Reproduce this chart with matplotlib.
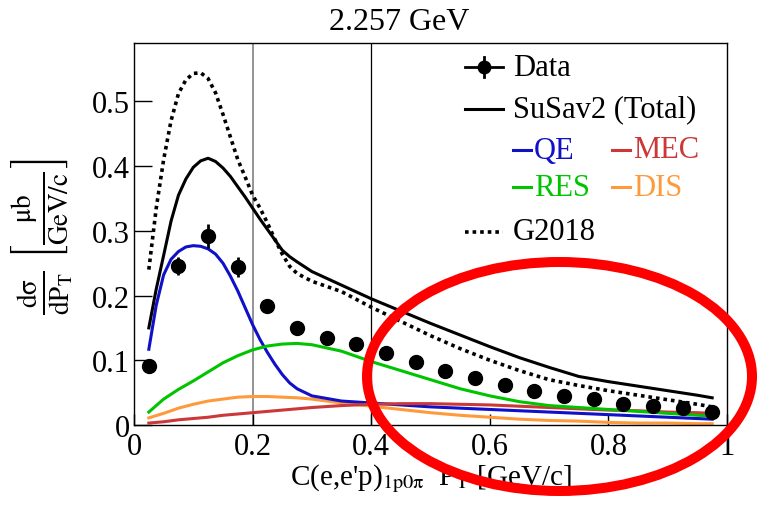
import matplotlib
matplotlib.use('Agg')
import matplotlib.pyplot as plt
from matplotlib.lines import Line2D
from matplotlib.patches import Ellipse

plt.rcParams['font.family'] = ['Liberation Serif', 'DejaVu Serif']
plt.rcParams['mathtext.fontset'] = 'stix'

# data points (bin centres) and their errors
data_x = [0.025, 0.075, 0.125, 0.175, 0.225, 0.275, 0.325, 0.375, 0.425, 0.475,
          0.525, 0.575, 0.625, 0.675, 0.725, 0.775, 0.825, 0.875, 0.925, 0.975]
data_y = [0.091, 0.245, 0.292, 0.244, 0.184, 0.150, 0.135, 0.125, 0.111, 0.097,
          0.084, 0.072, 0.062, 0.053, 0.045, 0.040, 0.032, 0.029, 0.026, 0.020]
data_err = [0.005, 0.014, 0.019, 0.015, 0.008, 0.006, 0.006, 0.005, 0.005, 0.004,
            0.004, 0.003, 0.003, 0.003, 0.003, 0.002, 0.002, 0.002, 0.002, 0.002]

# peaked model curves on a finer grid
fine_x = [0.025, 0.0375, 0.05, 0.0625, 0.075, 0.0875, 0.1, 0.1125, 0.125, 0.1375, 0.15,
          0.1625, 0.175, 0.1875, 0.2, 0.2125, 0.225, 0.2375, 0.25, 0.2625, 0.275, 0.3,
          0.35, 0.4, 0.45, 0.5, 0.55, 0.6, 0.65, 0.7, 0.75, 0.8, 0.85, 0.9, 0.95, 0.975]
susav2 = [0.150, 0.210, 0.262, 0.315, 0.355, 0.380, 0.398, 0.408, 0.412, 0.407, 0.397,
          0.384, 0.368, 0.352, 0.335, 0.318, 0.302, 0.286, 0.270, 0.260, 0.252, 0.237,
          0.216, 0.195, 0.176, 0.157, 0.139, 0.121, 0.104, 0.089, 0.075, 0.067, 0.060, 0.053, 0.046, 0.042]
g2018 = [0.240, 0.335, 0.410, 0.470, 0.512, 0.533, 0.543, 0.544, 0.535, 0.513, 0.480,
         0.445, 0.410, 0.383, 0.355, 0.335, 0.312, 0.287, 0.264, 0.245, 0.234, 0.222,
         0.206, 0.182, 0.160, 0.138, 0.118, 0.100, 0.084, 0.070, 0.061, 0.053, 0.046, 0.039, 0.032, 0.028]
qe = [0.117, 0.185, 0.232, 0.256, 0.268, 0.275, 0.277, 0.276, 0.272, 0.264, 0.250,
      0.230, 0.207, 0.181, 0.155, 0.132, 0.112, 0.094, 0.078, 0.065, 0.056, 0.045,
      0.037, 0.034, 0.031, 0.028, 0.026, 0.024, 0.022, 0.020, 0.018, 0.016, 0.014, 0.012, 0.010, 0.009]

# smoother components
curve_x = [0.025, 0.05, 0.075, 0.1, 0.125, 0.15, 0.175, 0.2, 0.225, 0.25, 0.275, 0.3,
           0.35, 0.4, 0.45, 0.5, 0.55, 0.6, 0.65, 0.7, 0.75, 0.8, 0.85, 0.9, 0.95, 0.975]
res = [0.020, 0.040, 0.055, 0.068, 0.082, 0.096, 0.107, 0.116, 0.122, 0.125, 0.126, 0.124,
       0.114, 0.098, 0.084, 0.070, 0.056, 0.045, 0.036, 0.030, 0.027, 0.024, 0.021, 0.018, 0.015, 0.014]
mec = [0.003, 0.005, 0.008, 0.010, 0.012, 0.015, 0.017, 0.019, 0.021, 0.023, 0.025, 0.027,
       0.030, 0.032, 0.033, 0.033, 0.032, 0.031, 0.029, 0.027, 0.025, 0.023, 0.022, 0.020, 0.019, 0.018]
dis = [0.011, 0.018, 0.026, 0.032, 0.037, 0.040, 0.043, 0.044, 0.044, 0.043, 0.042, 0.040,
       0.034, 0.029, 0.024, 0.019, 0.015, 0.012, 0.009, 0.007, 0.006, 0.004, 0.003, 0.003, 0.002, 0.002]

x_ticks = [0, 0.2, 0.4, 0.6, 0.8, 1]
x_ticklabels = ['0', '0.2', '0.4', '0.6', '0.8', '1']
y_ticks = [0, 0.1, 0.2, 0.3, 0.4, 0.5]
y_ticklabels = ['0', '0.1', '0.2', '0.3', '0.4', '0.5']

c_qe = '#1010c8'
c_res = '#00c400'
c_mec = '#cc3838'
c_dis = '#ff9a3c'

fig = plt.figure(figsize=(7.57, 5.06), dpi=100)
ax = fig.add_axes([134 / 757, 80 / 506, 593 / 757, 382 / 506])

ax.axvline(0.2, color='#808080', lw=1.2, zorder=1)
ax.axvline(0.4, color='black', lw=0.9, zorder=1)

ax.plot(curve_x, dis, color=c_dis, lw=2.2, zorder=2)
ax.plot(fine_x, qe, color=c_qe, lw=2.2, zorder=3)
ax.plot(curve_x, mec, color=c_mec, lw=2.2, zorder=3)
ax.plot(curve_x, res, color=c_res, lw=2.2, zorder=3)
ax.plot(fine_x, g2018, color='black', lw=2.6, ls=(0, (1, 1.1)), zorder=4)
ax.plot(fine_x, susav2, color='black', lw=2.2, zorder=4)
ax.errorbar(data_x, data_y, yerr=data_err, fmt='o', color='black', ms=10,
            elinewidth=2, capsize=0, zorder=5)

ax.set_xlim(0, 1)
ax.set_ylim(0, 0.59)
ax.set_xticks(x_ticks)
ax.set_xticklabels(x_ticklabels)
ax.set_yticks(y_ticks)
ax.set_yticklabels(y_ticklabels)
ax.tick_params(axis='x', direction='in', length=8, width=1, labelsize=22, pad=5)
ax.tick_params(axis='y', direction='in', length=13, width=1, labelsize=22, pad=3)
for s in ax.spines.values():
    s.set_linewidth(1)

# legend, drawn by hand to match the layout
def ax_pt(px, py):
    return (px - 134) / 593, (426 - py) / 382

kw = dict(transform=ax.transAxes, clip_on=False)
x0, y0 = ax_pt(465, 68)
x1, _ = ax_pt(503, 68)
ax.add_line(Line2D([x0, x1], [y0, y0], color='black', lw=2, **kw))
ax.add_line(Line2D([(x0 + x1) / 2] * 2, [y0 - 0.025, y0 + 0.025], color='black', lw=2, **kw))
ax.plot([(x0 + x1) / 2], [y0], 'o', color='black', ms=9, **kw)
tx, _ = ax_pt(513, 0)
ax.text(tx, y0, 'Data', fontsize=22, va='center', ha='left', transform=ax.transAxes)

_, y1 = ax_pt(0, 110)
ax.add_line(Line2D([x0, x1], [y1, y1], color='black', lw=2.2, **kw))
ax.text(tx, y1, 'SuSav2 (Total)', fontsize=22, va='center', ha='left', transform=ax.transAxes)

for (px, py, lab, col) in [(513, 151, 'QE', c_qe), (612, 151, 'MEC', c_mec),
                           (513, 188, 'RES', c_res), (612, 188, 'DIS', c_dis)]:
    a, yy = ax_pt(px, py)
    b, _ = ax_pt(px + 18, py)
    ax.add_line(Line2D([a, b], [yy, yy], color=col, lw=2.2, **kw))
    c, _ = ax_pt(px + 21, py)
    ax.text(c, yy, lab, fontsize=22, va='center', ha='left', color=col, transform=ax.transAxes)

_, y4 = ax_pt(0, 233)
ax.add_line(Line2D([x0, x1], [y4, y4], color='black', lw=2.6, ls=(0, (1, 1.1)), **kw))
ax.text(tx, y4, 'G2018', fontsize=22, va='center', ha='left', transform=ax.transAxes)

fig.text(399 / 757, 1 - 30 / 506, '2.257 GeV', fontsize=23, ha='center', va='baseline')
fig.text(431 / 757, 1 - 485 / 506,
         r"C(e,e'p)$_{\mathrm{1p0\pi}}$  P$_{\mathrm{T}}$ [GeV/c]",
         fontsize=21, ha='center', va='baseline')
fig.text(42 / 757, 1 - 237 / 506,
         r'$\frac{\mathrm{dσ}}{\mathrm{dP}_{\mathrm{T}}}\ \left[\frac{\mathrm{μb}}{\mathrm{GeV/c}}\right]$',
         fontsize=28, rotation=90, ha='center', va='center')

# red ellipse annotation on top of the figure
fig.add_artist(Ellipse((559.5 / 757, 1 - 377.5 / 506), 385 / 757, 229 / 506,
                       transform=fig.transFigure, fill=False, ec='#ff0000', lw=7.2, zorder=10))

fig.savefig('out.png', dpi=100)
